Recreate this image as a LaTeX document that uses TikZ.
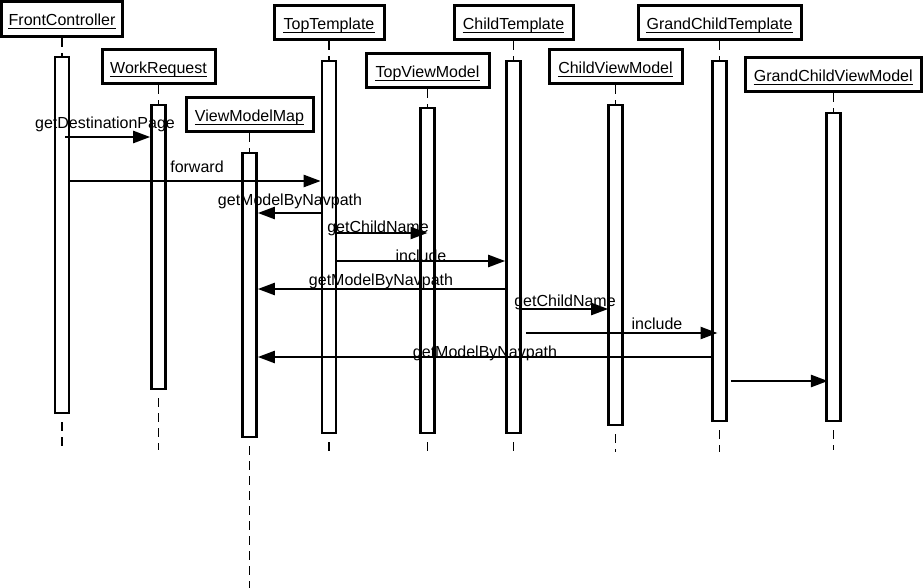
\documentclass[tikz,border=0pt]{standalone}
\usepackage{fontspec}
\setmainfont{Liberation Sans}
\usetikzlibrary{arrows.meta,calc}
\tikzset{
 hdr/.style={draw, line width=3pt, inner sep=0pt, fill=white},
 htxt/.style={inner sep=0pt, anchor=base, font=\fontsize{16}{19}\selectfont},
 uline/.style={line width=1pt},
 act/.style={draw, line width=2.6pt, fill=white, minimum width=14pt, inner sep=0pt},
 life/.style={line width=1.5pt, dash pattern=on 9pt off 6pt},
 msg/.style={line width=2.4pt, -{Triangle[length=17pt,width=12pt]}},
 lbl/.style={inner sep=0pt, anchor=base, font=\fontsize{16}{19}\selectfont},
}
\newcommand{\participant}[9]{%
 \node[hdr, minimum width={#5-#3}, minimum height={#6-#4}] (#1) at ({(#3+#5)/2},{(#4+#6)/2}) {};
 \node[htxt] (#1t) at ($(#1.center)+(0,7)$) {#2};
 \draw[uline] ([yshift=-3pt]#1t.base west) -- ([yshift=-3pt]#1t.base east);
 \node[act, minimum height={#8-#7}] (#1A) at ({(#3+#5)/2},{(#7+#8)/2}) {};
 \draw[life] (#1.south) -- (#1A.north);
 \coordinate (#1E) at ({(#3+#5)/2},#9);
 \draw[life] ($(#1A.south)+(0,8)$) -- (#1E);
}
\begin{document}
\begin{tikzpicture}[x=1pt,y=-1pt]
\path[use as bounding box] (0,0) rectangle (923,588);
\participant{fc}{FrontController}{1.5}{1.5}{122.5}{36.5}{57}{413}{452}
\participant{wr}{WorkRequest}{102}{50}{215}{84}{105}{389}{450}
\participant{vm}{ViewModelMap}{186}{98}{313}{132}{153}{437}{588}
\participant{tt}{TopTemplate}{274}{6}{384}{40}{61}{433}{452}
\participant{tv}{TopViewModel}{366}{54}{489}{88}{108}{433}{452}
\participant{ct}{ChildTemplate}{454}{6}{573}{40}{61}{433}{456}
\participant{cv}{ChildViewModel}{549}{50}{682}{84}{105}{425}{452}
\participant{gt}{GrandChildTemplate}{638}{6}{801}{40}{61}{421}{452}
\participant{gv}{GrandChildViewModel}{745}{58}{921.5}{92}{113}{421}{450}

% messages
\draw[msg] ($(fcA.east |- 0,137)+(-5,0)$) -- (wrA.west |- 0,137);
\draw[msg] (fcA.east |- 0,181) -- (ttA.west |- 0,181);
\draw[msg] (ttA.west |- 0,213) -- (vmA.east |- 0,213);
\draw[msg] (ttA.east |- 0,233) -- (tvA |- 0,233);
\draw[msg] (ttA.east |- 0,261) -- (ctA.west |- 0,261);
\draw[msg] ($(ctA.west |- 0,289)+(3,0)$) -- (vmA.east |- 0,289);
\draw[msg] (ctA.east |- 0,309) -- ($(cvA.west |- 0,309)+(1,0)$);
\draw[msg] ($(ctA.east |- 0,333)+(4,0)$) -- ($(gtA |- 0,333)+(-2,0)$);
\draw[msg] (gtA.west |- 0,357) -- (vmA.east |- 0,357);
\draw[msg] ($(gtA.east |- 0,381)+(3,0)$) -- ($(gvA.west |- 0,381)+(3,0)$);

% labels
\node[lbl] (l1) at (105,129) {getDestinationPage};
\node[lbl] (l2) at (197,173) {forward};
\node[lbl] (l3) at (290,205) {getModelByNavpath};
\node[lbl] (l4) at (378,233) {getChildName};
\node[lbl] (l5) at (421,261) {include};
\node[lbl] (l6) at (381,285) {getModelByNavpath};
\node[lbl] (l7) at (565,306) {getChildName};
\node[lbl] (l8) at (657,329) {include};
\node[lbl] (l9) at (485,357) {getModelByNavpath};
\end{tikzpicture}
\end{document}
